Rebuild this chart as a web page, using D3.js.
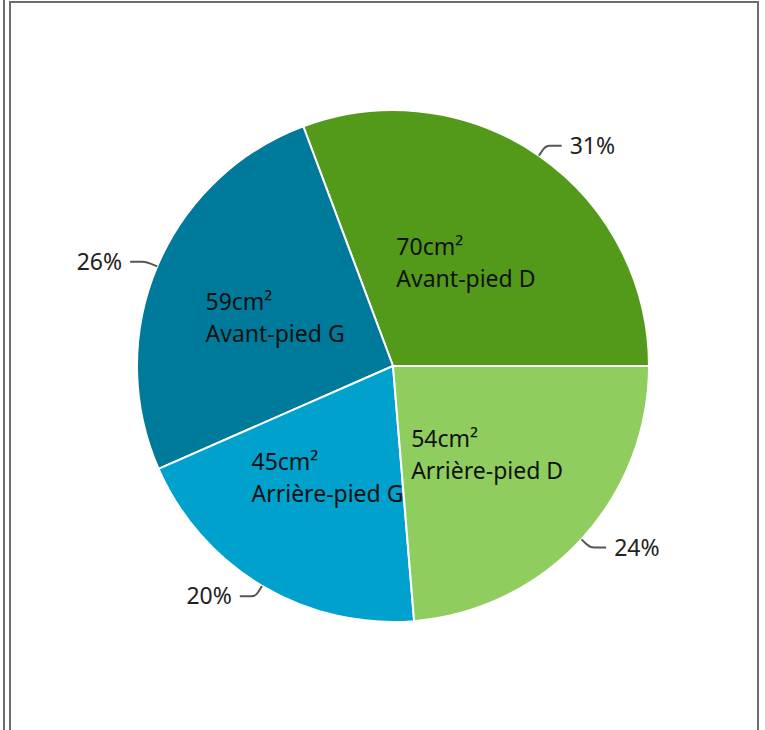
<!DOCTYPE html>
<html>
<head>
<meta charset="utf-8">
<script src="https://cdn.jsdelivr.net/npm/d3@7"></script>
<style>
  html, body { margin: 0; padding: 0; background: #fff; }
  svg { display: block; }
  text { font-family: "Noto Sans", "Open Sans", sans-serif; }
</style>
</head>
<body>
<svg id="chart" width="765" height="730"></svg>
<script>
const categories = ["Avant-pied D", "Avant-pied G", "Arrière-pied G", "Arrière-pied D"];
const values = [70, 59, 45, 54];
const units = "cm²";
const colors = ["#549a1a", "#007a9a", "#00a1cd", "#90cd5f"];

const W = 765, H = 730;
const cx = 393, cy = 366, R = 256;
const svg = d3.select("#chart");

// frame
const frame = svg.append("g").attr("stroke", "#6d6d6d").attr("stroke-width", 2);
frame.append("line").attr("x1", 4).attr("y1", 0).attr("x2", 4).attr("y2", H);
frame.append("line").attr("x1", 10).attr("y1", 1).attr("x2", 10).attr("y2", H);
frame.append("line").attr("x1", 9).attr("y1", 2).attr("x2", 759).attr("y2", 2);
frame.append("line").attr("x1", 758).attr("y1", 1).attr("x2", 758).attr("y2", H);

const total = d3.sum(values);
const data = categories.map((c, i) => ({ cat: c, value: values[i], color: colors[i] }));

const pie = d3.pie().sort(null).value(d => d.value)
  .startAngle(Math.PI / 2).endAngle(Math.PI / 2 - 2 * Math.PI);
const arcs = pie(data);
const arc = d3.arc().innerRadius(0).outerRadius(R);

const g = svg.append("g").attr("transform", `translate(${cx},${cy})`);

g.selectAll("path.slice").data(arcs).join("path")
  .attr("class", "slice")
  .attr("d", arc)
  .attr("fill", d => d.data.color)
  .attr("stroke", "#fff")
  .attr("stroke-width", 2)
  .attr("stroke-linejoin", "round");

const fs = 23;
// inner labels
arcs.forEach(a => {
  const [x, y] = arc.centroid(a);
  const t = g.append("text").attr("font-size", fs).attr("fill", "#111");
  const l1 = t.append("tspan").text(a.data.value + units).attr("y", y - 6);
  const l2 = t.append("tspan").text(a.data.cat).attr("y", y + 26);
  const w = Math.max(l1.node().getComputedTextLength(), l2.node().getComputedTextLength());
  l1.attr("x", x - w / 2);
  l2.attr("x", x - w / 2);
});

// outer percentage labels with leader lines
arcs.forEach(a => {
  const mid = (a.startAngle + a.endAngle) / 2;
  const sx = Math.sin(mid), sy = -Math.cos(mid);
  const p0 = [R * sx, R * sy];
  const p1 = [(R + 12) * sx, (R + 12) * sy];
  const dir = sx >= 0 ? 1 : -1;
  const p2 = [p1[0] + dir * 16, p1[1]];
  const q = [p0[0] + (p1[0] - p0[0]) * 0.6, p0[1] + (p1[1] - p0[1]) * 0.6];
  const r = [p1[0] + dir * 4, p1[1]];
  g.append("path")
    .attr("d", `M${p0}L${q}Q${p1} ${r}L${p2}`)
    .attr("fill", "none").attr("stroke", "#555").attr("stroke-width", 2);
  g.append("text")
    .attr("x", p2[0] + dir * 8).attr("y", p2[1])
    .attr("dy", "0.35em")
    .attr("text-anchor", dir > 0 ? "start" : "end")
    .attr("font-size", fs).attr("fill", "#222")
    .text(Math.round(a.data.value / total * 100) + "%");
});
</script>
</body>
</html>
